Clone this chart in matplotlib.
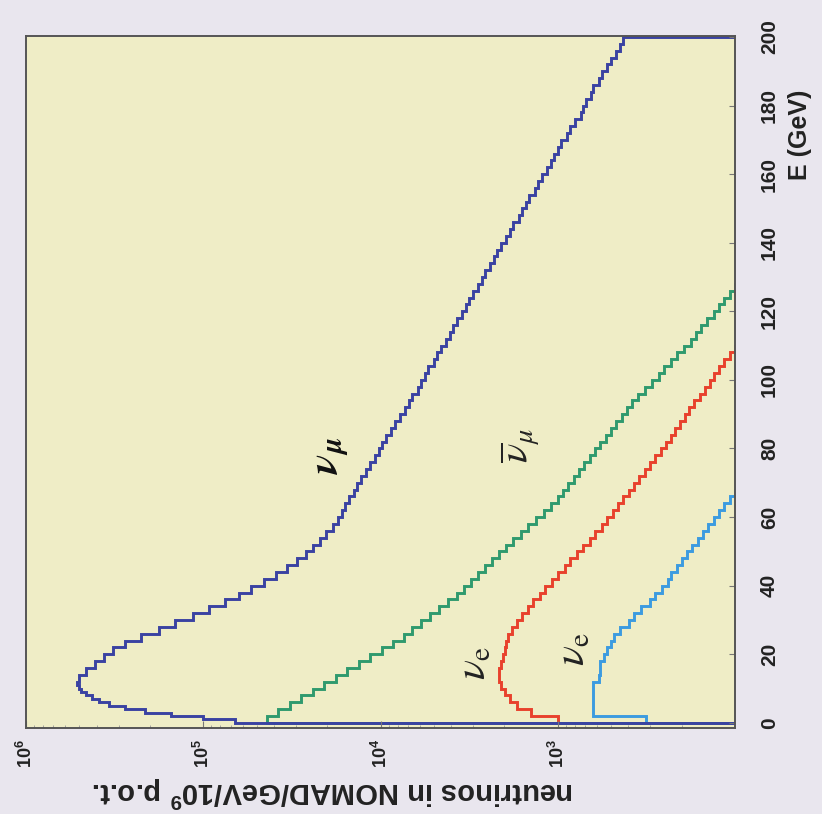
import numpy as np
import matplotlib
matplotlib.use("Agg")
import matplotlib.pyplot as plt

# log10 of neutrinos / GeV / 1e9 p.o.t.
# nu_mu: 1 GeV bins up to 12 GeV, then 2 GeV bins up to 200 GeV
numu_edges = [0, 1, 2, 3, 4, 5, 6, 7, 8, 9, 10, 11, 12] + list(range(14, 201, 2))
numu_log = [4.82, 5.00, 5.18, 5.33, 5.44, 5.53, 5.59, 5.63, 5.66, 5.69, 5.70, 5.71,
            5.70, 5.66, 5.61, 5.56,
            5.51, 5.44, 5.35, 5.25, 5.16, 5.06, 4.97, 4.88, 4.80, 4.73,
            4.66, 4.59, 4.53, 4.47, 4.42, 4.38, 4.34, 4.31, 4.27, 4.24,
            4.22, 4.20, 4.18, 4.15, 4.13, 4.11, 4.08, 4.06, 4.03, 4.01,
            3.99, 3.97, 3.94, 3.92, 3.89, 3.86, 3.84, 3.82, 3.79, 3.77,
            3.75, 3.73, 3.70, 3.68, 3.66, 3.63, 3.61, 3.59, 3.57, 3.54,
            3.52, 3.50, 3.48, 3.45, 3.43, 3.41, 3.38, 3.36, 3.34, 3.32,
            3.29, 3.27, 3.25, 3.22, 3.20, 3.18, 3.16, 3.13, 3.11, 3.09,
            3.06, 3.04, 3.02, 3.00, 2.98, 2.95, 2.93, 2.90, 2.87, 2.86,
            2.84, 2.81, 2.80, 2.77, 2.75, 2.72, 2.70, 2.67, 2.65, 2.63]
# the other three: 2 GeV bins starting at E = 0
numubar_log = [4.64, 4.58, 4.51, 4.45, 4.38, 4.32, 4.25, 4.19, 4.12, 4.06,
               3.99, 3.93, 3.87, 3.82, 3.77, 3.72, 3.67, 3.62, 3.57, 3.53,
               3.49, 3.45, 3.41, 3.37, 3.33, 3.29, 3.25, 3.21, 3.17, 3.12,
               3.08, 3.04, 3.00, 2.97, 2.94, 2.91, 2.88, 2.85, 2.82, 2.79,
               2.76, 2.73, 2.70, 2.67, 2.64, 2.61, 2.58, 2.55, 2.51, 2.47,
               2.43, 2.40, 2.36, 2.33, 2.29, 2.25, 2.22, 2.19, 2.16, 2.12,
               2.09, 2.06, 2.03, 2.00, 1.97]
nue_log = [3.00, 3.15, 3.23, 3.27, 3.30, 3.32, 3.33, 3.33, 3.32, 3.31,
           3.30, 3.29, 3.28, 3.26, 3.23, 3.20, 3.17, 3.14, 3.10, 3.07,
           3.03, 3.00, 2.96, 2.93, 2.89, 2.86, 2.82, 2.79, 2.75, 2.72,
           2.69, 2.66, 2.63, 2.60, 2.57, 2.54, 2.51, 2.48, 2.45, 2.42,
           2.39, 2.36, 2.34, 2.31, 2.28, 2.26, 2.23, 2.20, 2.17, 2.14,
           2.12, 2.09, 2.06, 2.03, 2.00, 1.97]
nuebar_log = [2.50, 2.80, 2.80, 2.80, 2.80, 2.80, 2.77, 2.76, 2.76, 2.74,
              2.72, 2.70, 2.68, 2.65, 2.60, 2.57, 2.53, 2.48, 2.45, 2.41,
              2.38, 2.36, 2.33, 2.30, 2.27, 2.24, 2.21, 2.18, 2.15, 2.12,
              2.09, 2.06, 2.03, 2.00, 1.96]
bin_width = 2.0

e_ticks = [0, 20, 40, 60, 80, 100, 120, 140, 160, 180, 200]
flux_ticks = [1e6, 1e5, 1e4, 1e3]
flux_labels = [r'$10^{6}$', r'$10^{5}$', r'$10^{4}$', r'$10^{3}$']

plt.rcParams['font.family'] = ['Liberation Sans', 'DejaVu Sans']
plt.rcParams['mathtext.fontset'] = 'custom'
plt.rcParams['mathtext.rm'] = 'Liberation Sans:bold'
plt.rcParams['mathtext.it'] = 'Liberation Sans:bold:italic'
plt.rcParams['mathtext.bf'] = 'Liberation Sans:bold'

fig = plt.figure(figsize=(8.22, 8.14), dpi=100, facecolor='#e9e6ee')
# the whole chart is turned a quarter turn: energy runs up, flux runs right-to-left
ax = fig.add_axes([0.0316, 0.1057, 0.8626, 0.8501], facecolor='#efedc6')

series = [
    (nuebar_log, None, '#3c9be0'),
    (nue_log, None, '#e8412c'),
    (numubar_log, None, '#2f9a6e'),
    (numu_log, numu_edges, '#3a42a2'),
]
for vals, edges, col in series:
    vals = 10 ** np.array(vals)
    if edges is None:
        edges = np.arange(len(vals) + 1) * bin_width
    ax.stairs(vals, edges, orientation='horizontal', baseline=1.0,
              color=col, lw=2.1)

ax.set_xscale('log')
ax.set_xlim(1e6, 1e2)
ax.set_ylim(-1.5, 200.3)

ax.yaxis.tick_right()
ax.set_yticks(e_ticks)
ax.set_yticklabels([str(t) for t in e_ticks], rotation=90, va='center',
                   fontsize=15, fontweight='bold', color='#222222')
ax.set_xticks(flux_ticks)
ax.set_xticklabels(flux_labels, rotation=90, fontsize=13, color='#222222')
ax.tick_params(axis='y', direction='in', length=4, pad=18, color='#777777')
ax.tick_params(axis='x', which='major', direction='in', length=5, pad=8, color='#777777')
ax.tick_params(axis='x', which='minor', direction='in', length=2.5, color='#999999')
for s in ax.spines.values():
    s.set_color('#555555')
    s.set_linewidth(1.4)

fig.text(0.973, 0.834, 'E (GeV)', rotation=90, ha='center', va='center',
         fontsize=18, fontweight='bold', color='#222222')
fig.text(0.405, 0.027, r'neutrinos in NOMAD/GeV/10$^{9}$ p.o.t.', rotation=180,
         ha='center', va='center', fontsize=21, fontweight='bold', color='#222222')

ax.text(10 ** 4.28, 78, r'$\boldsymbol{\nu}_{\boldsymbol{\mu}}$', rotation=90,
        ha='center', va='center', fontsize=30, color='#111111', math_fontfamily='stix')
ax.text(10 ** 3.21, 81, r'$\overline{\nu}_{\mu}$', rotation=90,
        ha='center', va='center', fontsize=29, color='#222222', math_fontfamily='stix')
ax.text(10 ** 3.47, 17.5, r'$\nu_{\mathrm{e}}$', rotation=90,
        ha='center', va='center', fontsize=30, color='#222222', math_fontfamily='stix')
ax.text(10 ** 2.91, 21.5, r'$\nu_{\mathrm{e}}$', rotation=90,
        ha='center', va='center', fontsize=30, color='#222222', math_fontfamily='stix')

fig.savefig('out.png', dpi=100, facecolor=fig.get_facecolor())
